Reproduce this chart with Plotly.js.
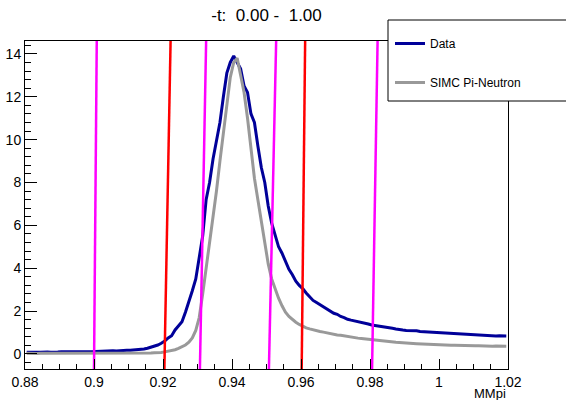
<!DOCTYPE html>
<html>
<head>
<meta charset="utf-8">
<script src="https://cdn.plot.ly/plotly-3.0.1.min.js"></script>
<style>html,body{margin:0;padding:0;background:#fff;}#chart{width:566px;height:400px;}</style>
</head>
<body>
<div id="chart"></div>
<script>
// Histogram binning (MMpi)
const binStart = 0.88;
const binWidth = 0.001;

// Data counts per bin
const dataCounts = [
  0.08,0.07,0.09,0.08,0.08,0.10,0.09,0.08,0.10,0.09,
  0.10,0.09,0.11,0.10,0.10,0.12,0.11,0.10,0.12,0.11,
  0.12,0.13,0.12,0.14,0.13,0.15,0.14,0.16,0.15,0.17,
  0.17,0.18,0.19,0.21,0.23,0.27,0.31,0.36,0.42,0.50,
  0.60,0.75,0.85,1.12,1.30,1.50,1.95,2.40,2.95,3.50,
  4.60,5.50,7.20,8.00,9.10,10.0,10.8,12.0,13.1,13.6,
  13.9,13.6,13.3,12.5,12.2,11.2,10.8,9.70,8.70,8.00,
  6.90,6.10,5.50,5.00,4.70,4.30,3.95,3.70,3.40,3.20,
  3.05,2.85,2.65,2.50,2.40,2.30,2.20,2.10,2.00,1.90,
  1.85,1.75,1.70,1.62,1.58,1.55,1.50,1.47,1.45,1.40,
  1.35,1.33,1.30,1.27,1.25,1.22,1.20,1.17,1.13,1.12,
  1.10,1.10,1.07,1.08,1.05,1.04,1.02,1.00,1.00,0.98,
  0.97,0.96,0.96,0.95,0.93,0.94,0.92,0.91,0.90,0.91,
  0.89,0.88,0.88,0.86,0.86,0.85,0.84,0.85,0.83,0.84
];

// SIMC Pi-Neutron counts per bin
const simcCounts = [
  0.03,0.02,0.03,0.02,0.03,0.03,0.02,0.03,0.03,0.02,
  0.03,0.03,0.02,0.03,0.03,0.03,0.02,0.03,0.03,0.03,
  0.03,0.03,0.03,0.04,0.03,0.03,0.04,0.03,0.04,0.04,
  0.04,0.04,0.05,0.05,0.05,0.05,0.05,0.06,0.06,0.07,
  0.10,0.13,0.16,0.20,0.26,0.33,0.42,0.55,0.75,1.10,
  1.70,2.80,4.00,5.20,6.30,7.60,9.00,10.3,11.6,12.9,
  13.6,13.8,13.0,12.2,11.0,9.60,8.20,7.20,6.20,5.10,
  4.20,3.50,3.00,2.60,2.25,1.95,1.75,1.60,1.48,1.38,
  1.28,1.22,1.17,1.12,1.08,1.05,1.02,0.98,0.95,0.92,
  0.89,0.87,0.84,0.80,0.78,0.76,0.74,0.72,0.70,0.68,
  0.66,0.64,0.62,0.60,0.60,0.58,0.56,0.55,0.54,0.52,
  0.51,0.50,0.49,0.48,0.47,0.47,0.46,0.45,0.44,0.44,
  0.43,0.42,0.42,0.41,0.41,0.40,0.40,0.39,0.39,0.38,
  0.38,0.38,0.37,0.37,0.37,0.36,0.37,0.36,0.36,0.36
];

// Cut lines: x at the bottom of the frame and x at the top of the frame
const cutXBottom = [0.9000, 0.9204, 0.9307, 0.9507, 0.9602, 0.9806];
const cutXTop    = [0.9008, 0.9222, 0.9325, 0.9528, 0.9612, 0.9822];
const cutColors  = ['#ff00ff', '#ff0000', '#ff00ff', '#ff00ff', '#ff0000', '#ff00ff'];

const xRange = [0.88, 1.02];
const yRange = [-0.7, 14.6];
const xTickVals = [0.88, 0.9, 0.92, 0.94, 0.96, 0.98, 1, 1.02];
const xTickText = ['0.88', '0.9', '0.92', '0.94', '0.96', '0.98', '1', '1.02'];
const yTickVals = [0, 2, 4, 6, 8, 10, 12, 14];

const seriesNames = ['Data', 'SIMC Pi-Neutron'];
const titleText = '-t:  0.00 -  1.00';
const xTitle = 'MMpi';

const centers = dataCounts.map((_, i) => binStart + binWidth * (i + 0.5));

const FONT = 'Liberation Sans, Arial, Helvetica, sans-serif';

const traces = [
  {x: centers, y: dataCounts, type: 'scatter', mode: 'lines', name: seriesNames[0],
   line: {color: '#000099', width: 3, shape: 'linear'}, legendgroup: 'a'},
  {x: centers, y: simcCounts, type: 'scatter', mode: 'lines', name: seriesNames[1],
   line: {color: '#999999', width: 3, shape: 'linear'}, legendgroup: 'b'}
];
cutXBottom.forEach((xb, k) => {
  traces.push({x: [xb, cutXTop[k]], y: [yRange[0], yRange[1]], type: 'scatter', mode: 'lines',
    line: {color: cutColors[k], width: 2.5}, showlegend: false, hoverinfo: 'skip'});
});

const L = 25, R = 508, T = 41, B = 369;
const W = 566, H = 400;
const pw = R - L, ph = B - T;
const px2x = p => (p - L) / pw;
const py2y = p => (B - p) / ph;

const layout = {
  width: W, height: H,
  margin: {l: L, r: W - R, t: T, b: H - B, pad: 0},
  paper_bgcolor: '#ffffff', plot_bgcolor: '#ffffff',
  font: {family: FONT, size: 14, color: '#000'},
  title: {text: titleText, font: {family: FONT, size: 17, color: '#000'},
          x: 0.5, xref: 'paper', xanchor: 'center', y: 1 - 15 / H, yref: 'container', yanchor: 'middle'},
  showlegend: true,
  legend: {x: px2x(390), y: py2y(29), xanchor: 'left', yanchor: 'top', xref: 'paper', yref: 'paper',
           bgcolor: 'rgba(0,0,0,0)', borderwidth: 0, font: {family: FONT, size: 12, color: '#000'},
           tracegroupgap: 20, traceorder: 'grouped'},
  xaxis: {range: xRange, tickmode: 'array', tickvals: xTickVals, ticktext: xTickText,
          ticks: 'inside', ticklen: 10, tickwidth: 1, tickcolor: '#000',
          minor: {dtick: 0.005, tick0: 0.88, ticks: 'inside', ticklen: 5, tickcolor: '#000', showgrid: false},
          showline: true, linecolor: '#000', linewidth: 1, mirror: true,
          showgrid: false, zeroline: false, tickfont: {family: FONT, size: 14}},
  yaxis: {range: yRange, tickmode: 'array', tickvals: yTickVals,
          ticks: 'inside', ticklen: 12, tickwidth: 1, tickcolor: '#000',
          minor: {dtick: 0.4, tick0: 0, ticks: 'inside', ticklen: 6, tickcolor: '#000', showgrid: false},
          showline: true, linecolor: '#000', linewidth: 1, mirror: true,
          showgrid: false, zeroline: false, tickfont: {family: FONT, size: 14}},
  annotations: [
    {text: xTitle, xref: 'paper', yref: 'paper', x: 1, y: py2y(393), xanchor: 'right', yanchor: 'middle',
     showarrow: false, font: {family: FONT, size: 13, color: '#000'}}
  ],
  shapes: [
    {type: 'rect', xref: 'paper', yref: 'paper', x0: px2x(388), x1: px2x(572), y0: py2y(101), y1: py2y(20),
     fillcolor: '#ffffff', line: {color: '#000', width: 1}, layer: 'above'}
  ]
};

Plotly.newPlot('chart', traces, layout, {displayModeBar: false, staticPlot: true});
</script>
</body>
</html>
